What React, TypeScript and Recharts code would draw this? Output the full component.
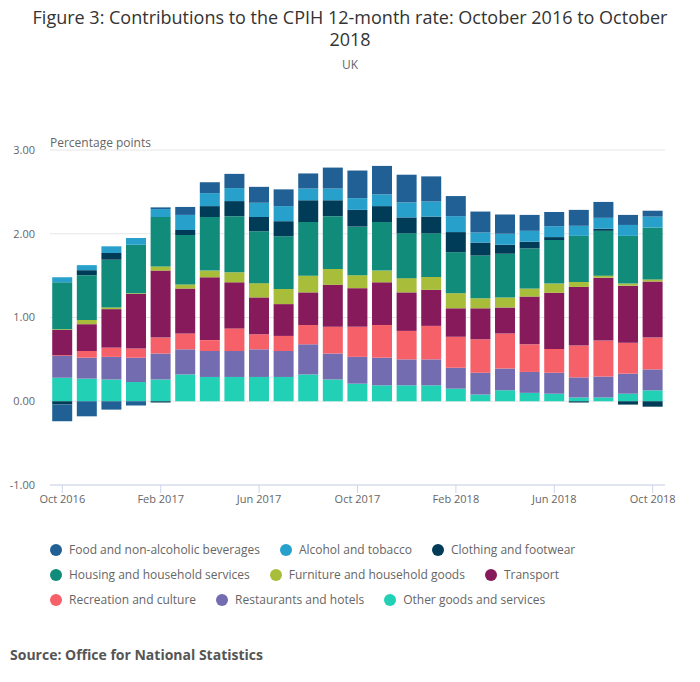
import React from 'react'
import { BarChart, Bar, XAxis, YAxis, CartesianGrid } from 'recharts'

const months = [
  'Oct 2016', 'Nov 2016', 'Dec 2016', 'Jan 2017', 'Feb 2017', 'Mar 2017', 'Apr 2017',
  'May 2017', 'Jun 2017', 'Jul 2017', 'Aug 2017', 'Sep 2017', 'Oct 2017', 'Nov 2017',
  'Dec 2017', 'Jan 2018', 'Feb 2018', 'Mar 2018', 'Apr 2018', 'May 2018', 'Jun 2018',
  'Jul 2018', 'Aug 2018', 'Sep 2018', 'Oct 2018',
]

const other = [0.28, 0.27, 0.26, 0.23, 0.26, 0.32, 0.29, 0.29, 0.29, 0.29, 0.32, 0.26, 0.21, 0.19, 0.19, 0.19, 0.15, 0.08, 0.13, 0.1, 0.09, 0.045, 0.045, 0.09, 0.13]
const restaurants = [0.26, 0.25, 0.27, 0.29, 0.31, 0.3, 0.31, 0.31, 0.33, 0.31, 0.36, 0.31, 0.32, 0.33, 0.31, 0.31, 0.25, 0.26, 0.26, 0.25, 0.25, 0.24, 0.25, 0.24, 0.25]
const recreation = [0.01, 0.08, 0.11, 0.11, 0.19, 0.19, 0.13, 0.27, 0.18, 0.18, 0.23, 0.32, 0.36, 0.39, 0.34, 0.4, 0.37, 0.4, 0.42, 0.33, 0.285, 0.38, 0.43, 0.37, 0.38]
const transport = [0.3, 0.32, 0.46, 0.65, 0.8, 0.535, 0.75, 0.55, 0.44, 0.38, 0.39, 0.5, 0.46, 0.51, 0.46, 0.43, 0.34, 0.37, 0.31, 0.57, 0.67, 0.7, 0.75, 0.68, 0.67]
const furniture = [0.01, 0.05, 0.02, 0.01, 0.05, 0.05, 0.08, 0.12, 0.17, 0.18, 0.2, 0.19, 0.155, 0.14, 0.17, 0.155, 0.18, 0.12, 0.12, 0.095, 0.11, 0.06, 0.025, 0.025, 0.025]
const housing = [0.56, 0.535, 0.57, 0.58, 0.59, 0.59, 0.64, 0.67, 0.62, 0.63, 0.64, 0.63, 0.58, 0.58, 0.535, 0.52, 0.49, 0.51, 0.52, 0.48, 0.52, 0.55, 0.535, 0.57, 0.62]
const clothing = [-0.04, 0.06, 0.08, 0, -0.015, 0.06, 0.13, 0.18, 0.17, 0.18, 0.26, 0.19, 0.2, 0.19, 0.19, 0.2, 0.24, 0.155, 0.11, 0.08, 0.035, -0.015, 0.025, -0.04, -0.065]
const alcohol = [0.06, 0.06, 0.08, 0.08, 0.095, 0.18, 0.155, 0.155, 0.17, 0.18, 0.14, 0.14, 0.14, 0.14, 0.18, 0.18, 0.19, 0.12, 0.13, 0.13, 0.13, 0.12, 0.13, 0.13, 0.13]
const food = [-0.2, -0.18, -0.1, -0.05, 0.02, 0.095, 0.13, 0.17, 0.19, 0.2, 0.18, 0.25, 0.33, 0.34, 0.33, 0.3, 0.24, 0.25, 0.23, 0.19, 0.17, 0.19, 0.19, 0.12, 0.07]

const yTicks = [-1, 0, 1, 2, 3]

// stacking order, bottom first
const series = [
  { key: 'other', name: 'Other goods and services', color: '#22d0b6', values: other },
  { key: 'restaurants', name: 'Restaurants and hotels', color: '#746cb1', values: restaurants },
  { key: 'recreation', name: 'Recreation and culture', color: '#f66068', values: recreation },
  { key: 'transport', name: 'Transport', color: '#871a5b', values: transport },
  { key: 'furniture', name: 'Furniture and household goods', color: '#a8bd3a', values: furniture },
  { key: 'housing', name: 'Housing and household services', color: '#118c7b', values: housing },
  { key: 'clothing', name: 'Clothing and footwear', color: '#003c57', values: clothing },
  { key: 'alcohol', name: 'Alcohol and tobacco', color: '#27a0cc', values: alcohol },
  { key: 'food', name: 'Food and non-alcoholic beverages', color: '#206095', values: food },
]

const legendRows = [
  ['food', 'alcohol', 'clothing'],
  ['housing', 'furniture', 'transport'],
  ['recreation', 'restaurants', 'other'],
]

const chartData = months.map((month, i) => {
  const row: any = { month }
  series.forEach((s) => {
    row[s.key] = s.values[i]
  })
  return row
})

const axisColor = '#666666'

export default function App() {
  return (
    <div
      style={{
        position: 'absolute',
        left: 0,
        top: 0,
        width: 700,
        height: 682,
        background: '#fff',
        fontFamily: '"Open Sans", sans-serif',
      }}
    >
      <div
        style={{
          position: 'absolute',
          top: 6,
          left: 0,
          width: 700,
          textAlign: 'center',
          fontSize: 18,
          lineHeight: '22px',
          color: '#333333',
        }}
      >
        Figure 3: Contributions to the CPIH 12-month rate: October 2016 to October
        <br />
        2018
      </div>
      <div
        style={{
          position: 'absolute',
          top: 56,
          left: 0,
          width: 700,
          textAlign: 'center',
          fontSize: 12,
          color: axisColor,
        }}
      >
        UK
      </div>
      <div
        style={{
          position: 'absolute',
          top: 134,
          left: 50,
          fontSize: 12,
          color: axisColor,
        }}
      >
        Percentage points
      </div>

      <div style={{ position: 'absolute', left: 0, top: 0 }}>
        <BarChart
          width={700}
          height={520}
          data={chartData}
          stackOffset="sign"
          barCategoryGap="9%"
          margin={{ top: 150, right: 35, bottom: 5, left: 0 }}
        >
          <CartesianGrid vertical={false} stroke="#e6e6e6" />
          <XAxis
            dataKey="month"
            interval={3}
            height={30}
            tickSize={8}
            axisLine={{ stroke: '#ccd6eb' }}
            tickLine={{ stroke: '#ccd6eb' }}
            tick={{ fill: axisColor, fontSize: 11 }}
          />
          <YAxis
            type="number"
            domain={[-1, 3]}
            ticks={yTicks}
            width={50}
            axisLine={false}
            tickLine={false}
            tickMargin={9}
            tick={{ fill: axisColor, fontSize: 11 }}
            tickFormatter={(v: number) => v.toFixed(2)}
          />
          {series.map((s) => (
            <Bar
              key={s.key}
              dataKey={s.key}
              name={s.name}
              stackId="a"
              fill={s.color}
              isAnimationActive={false}
            />
          ))}
        </BarChart>
      </div>

      {/* Legend */}
      <div style={{ position: 'absolute', left: 50, top: 537, fontSize: 12, color: axisColor }}>
        {legendRows.map((row, ri) => (
          <div key={ri} style={{ display: 'flex', height: 25, alignItems: 'center' }}>
            {row.map((k) => {
              const s = series.find((x) => x.key === k)!
              return (
                <div key={k} style={{ display: 'flex', alignItems: 'center', marginRight: 20 }}>
                  <div
                    style={{
                      width: 12,
                      height: 12,
                      borderRadius: '50%',
                      background: s.color,
                      marginRight: 7,
                    }}
                  />
                  <span>{s.name}</span>
                </div>
              )
            })}
          </div>
        ))}
      </div>

      <div
        style={{
          position: 'absolute',
          left: 10,
          top: 645,
          fontSize: 14,
          fontWeight: 'bold',
          color: '#555555',
        }}
      >
        Source: Office for National Statistics
      </div>
    </div>
  )
}
